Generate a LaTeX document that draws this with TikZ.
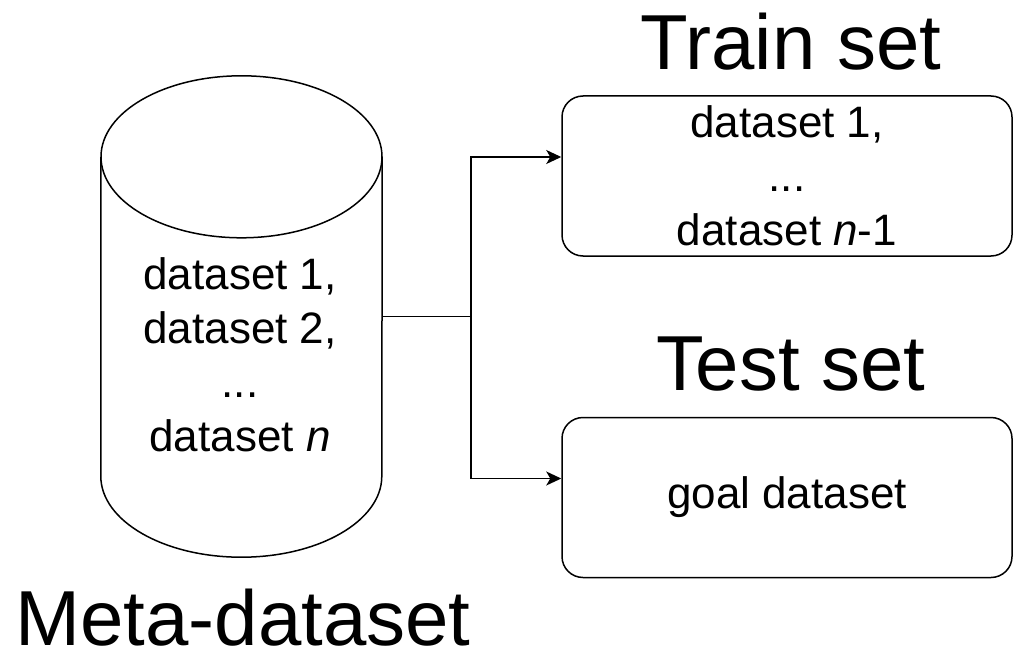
\documentclass[tikz,border=0pt]{standalone}
\usepackage{fontspec}
\setmainfont{Liberation Sans}
\usetikzlibrary{arrows.meta,positioning}

\tikzset{
  setbox/.style={draw, line width=1.5pt, rounded corners=21pt, minimum width=450pt,
    minimum height=160pt, align=center, font=\fontsize{44}{54}\selectfont},
  listtext/.style={align=center, font=\fontsize{44}{54}\selectfont},
  title/.style={inner sep=0pt, font=\fontsize{78}{94}\selectfont},
  wire/.style={line width=1.5pt},
  tip/.style={-{Stealth[length=15pt,width=14pt,inset=4pt]}}
}

\begin{document}
\begin{tikzpicture}[x=1pt,y=-1pt]
  \useasboundingbox (0,0) rectangle (1014,650);

  % meta-dataset cylinder
  \node[minimum width=281pt, minimum height=319pt, inner sep=0pt] (db) at (241.5,316.5) {};
  \draw[wire] (db.north) ellipse [x radius=140.5pt, y radius=81pt];
  \draw[wire] (db.north west) -- (db.south west)
    arc [start angle=180, end angle=360, x radius=140.5pt, y radius=81pt]
    -- (db.north east);
  \node[listtext] (dblist) at (240,355) {dataset 1,\\ dataset 2,\\ ...\\ dataset \textit{n}};
  \node[title, anchor=base] (metatitle) at (243,645) {Meta-dataset};

  % train and test sets
  \node[setbox] (train) at (787,176) {dataset 1,\\ ...\\ dataset \textit{n}-1};
  \node[setbox, below=160pt of train] (test) {goal dataset};
  \node[title, above=25pt of train, xshift=4pt] (traintitle) {Train set};
  \node[title, above=25pt of test, xshift=4pt] (testtitle) {Test set};

  % split
  \coordinate[right=89pt of db.east] (split);
  \draw[wire] (db.east) -- (split);
  \draw[wire, tip] (split) |- ([yshift=19pt]train.west);
  \draw[wire, tip] (split) |- ([yshift=19pt]test.west);
\end{tikzpicture}
\end{document}
